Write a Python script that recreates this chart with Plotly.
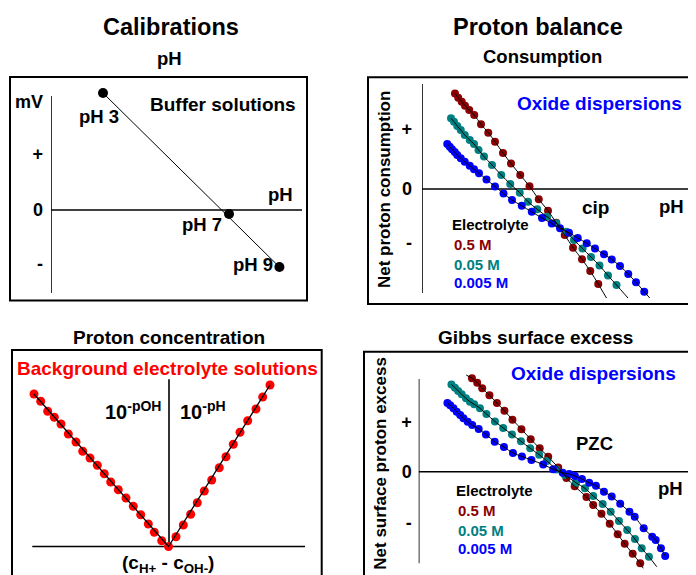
import plotly.graph_objects as go

# The page body adds an 8 px margin, so the figure is drawn 8 px in from the corner.
OFF = 8
W, H = 696 - OFF, 575 - OFF
FONT = "Liberation Sans, Arial, Helvetica, sans-serif"

# ---------------- data ----------------
# Panel 1: pH electrode calibration with buffer solutions (schematic)
buffer_labels = ["pH 3", "pH 7", "pH 9"]
buffer_ph = [3.0, 7.0, 8.6]
buffer_mv = [234, -8, -114]
cal_tickvals = [216, 113, 0, -107]
cal_ticktext = ["mV", "+", "0", "-"]

# Panel 2: net proton consumption vs pH (oxide dispersions)
cons_red_ph = [2.82, 2.95, 3.09, 3.22, 3.39, 3.59, 3.86, 4.15, 4.42, 4.74, 5.06, 5.43,
               5.80, 6.17, 6.54, 6.87, 7.21, 7.54, 7.90, 8.23, 8.55]
cons_red_y = [9.55, 9.13, 8.73, 8.33, 7.9, 7.4, 6.47, 5.63, 4.73, 3.6, 2.55, 1.4,
              0.27, -1.03, -2.17, -3.37, -4.6, -5.87, -7.03, -8.2, -9.5]
cons_teal_ph = [2.66, 2.78, 2.91, 3.05, 3.21, 3.41, 3.58, 3.76, 3.98, 4.30, 4.67, 5.03,
                5.41, 5.74, 6.11, 6.50, 6.87, 7.27, 7.58, 7.92, 8.26, 8.60, 8.94, 9.28]
cons_teal_y = [7.07, 6.73, 6.3, 5.9, 5.4, 4.9, 4.5, 3.9, 3.25, 2.4, 1.4, 0.5,
               -0.37, -1.27, -2.03, -2.77, -3.43, -4.27, -5.1, -5.95, -6.8, -7.65, -8.65, -9.6]
cons_blue_ph = [2.51, 2.61, 2.70, 2.81, 2.91, 3.05, 3.21, 3.41, 3.58, 3.78, 4.08, 4.42,
                4.76, 5.10, 5.49, 5.89, 6.30, 6.69, 7.02, 7.38, 7.73, 8.09, 8.42, 8.78,
                9.09, 9.42, 9.75, 10.06, 10.39]
cons_blue_y = [4.5, 4.23, 3.97, 3.7, 3.4, 3.07, 2.73, 2.33, 1.97, 1.57, 0.95, 0.25,
               -0.45, -1.1, -1.68, -2.28, -2.9, -3.45, -3.93, -4.37, -4.89, -5.43, -5.95, -6.53,
               -7.05, -7.7, -8.5, -9.33, -10.27]
cons_tail_ph = [8.88, 9.74, 10.61]      # where the black model lines end
cons_tail_y = [-10.9, -10.9, -10.9]
cons_tickvals = [6.0, 0, -5.4]
cons_ticktext = ["+", "0", "-"]

# Panel 3: proton concentration in background electrolyte (V shape)
conc_x = [-13.45, -12.78, -12.08, -11.42, -10.75, -10.02, -9.25, -8.58, -7.85, -7.12,
          -6.42, -5.78, -5.02, -4.25, -3.52, -2.78, -2.02, -1.42, -0.68, 0.0,
          0.75, 1.48, 2.22, 2.88, 3.58, 4.32, 5.08, 5.75, 6.48, 7.15, 7.92, 8.75, 9.42, 10.15]
conc_y = [15.25, 14.52, 13.52, 12.92, 12.25, 11.25, 10.45, 9.52, 8.85, 8.12,
          7.28, 6.45, 5.68, 4.85, 4.02, 3.18, 2.25, 1.42, 0.58, 0.0,
          0.98, 2.15, 3.22, 4.38, 5.55, 6.65, 7.88, 8.98, 10.22, 11.42, 12.58, 13.75, 14.95, 16.15]
conc_line_x = [-13.45, 0.0, 10.15]
conc_line_y = [15.25, 0.0, 16.15]

# Panel 4: Gibbs surface excess vs pH
gibbs_red_ph = [3.63, 3.84, 4.04, 4.33, 4.63, 4.93, 5.25, 5.61, 5.98, 6.34, 6.68, 7.08,
                7.41, 7.74, 8.21, 8.48, 8.81, 9.14, 9.46, 9.74, 10.06, 10.36]
gibbs_red_y = [9.34, 8.9, 8.34, 7.64, 6.87, 6.09, 5.2, 4.25, 3.25, 2.34, 1.49, 0.42,
               -0.63, -1.46, -2.53, -3.33, -4.2, -5.2, -6.25, -7.21, -8.2, -9.16]
gibbs_teal_ph = [2.81, 2.95, 3.08, 3.22, 3.39, 3.55, 3.72, 3.95, 4.21, 4.55, 4.88, 5.23,
                 5.59, 5.96, 6.32, 6.63, 7.01, 7.35, 7.79, 8.15, 8.48, 8.86, 9.18, 9.51,
                 9.84, 10.15, 10.42, 10.71]
gibbs_teal_y = [8.72, 8.4, 8.07, 7.74, 7.34, 7.0, 6.74, 6.34, 5.77, 5.02, 4.37, 3.72,
                3.04, 2.34, 1.7, 1.07, 0.22, -0.33, -1.1, -1.66, -2.43, -3.23, -4.0, -4.93,
                -5.83, -6.73, -7.66, -8.5]
gibbs_blue_ph = [2.65, 2.76, 2.89, 3.02, 3.16, 3.29, 3.46, 3.64, 3.90, 4.19, 4.54, 4.91,
                 5.27, 5.63, 6.01, 6.48, 6.88, 7.26, 7.52, 7.75, 8.03, 8.32, 8.59, 8.91,
                 9.22, 9.56, 9.93, 10.14, 10.50, 10.84, 10.98, 11.19, 11.36]
gibbs_blue_y = [6.87, 6.64, 6.34, 6.0, 5.67, 5.34, 5.0, 4.67, 4.27, 3.72, 3.0, 2.47,
                1.87, 1.52, 1.17, 0.72, 0.24, -0.1, -0.23, -0.43, -0.73, -1.1, -1.4, -2.0,
                -2.48, -3.21, -4.0, -4.5, -5.66, -6.5, -6.83, -7.66, -8.43]
gibbs_red_head = (3.40, 9.67)
gibbs_red_tail = (10.48, -9.66)
gibbs_teal_tail = (11.02, -9.5)
gibbs_tickvals = [5.0, 0, -5.1]
gibbs_ticktext = ["+", "0", "-"]

electrolytes = ["0.5 M", "0.05 M", "0.005 M"]
DARKRED, TEAL, BLUE, RED = "#8B0000", "#008080", "#0000FF", "#FF0000"
series_colors = [DARKRED, TEAL, BLUE]

# ---------------- helpers (screen pixels -> paper) ----------------
def fx(p):
    return (p - OFF) / W

def fy(p):
    return 1 - (p - OFF) / H

fig = go.Figure()

def add_dots(x, y, color, size, n):
    fig.add_trace(go.Scatter(x=x, y=y, mode="markers", xaxis=f"x{n}", yaxis=f"y{n}",
                             marker=dict(color=color, size=size, line=dict(width=0)),
                             cliponaxis=False, hoverinfo="skip", showlegend=False))

def add_line(x, y, n, width=1, shape="linear"):
    fig.add_trace(go.Scatter(x=x, y=y, mode="lines", xaxis=f"x{n}", yaxis=f"y{n}",
                             line=dict(color="black", width=width, shape=shape, smoothing=0.6),
                             hoverinfo="skip", showlegend=False))

# Panel 1
add_line([buffer_ph[0], buffer_ph[-1]], [buffer_mv[0], buffer_mv[-1]], 1)
add_dots(buffer_ph, buffer_mv, "black", 10, 1)

# Panel 2
cons_sets = [(cons_red_ph, cons_red_y), (cons_teal_ph, cons_teal_y), (cons_blue_ph, cons_blue_y)]
for (xs, ys), c in zip(cons_sets, series_colors):
    add_dots(xs, ys, c, 8, 2)
for i, (xs, ys) in enumerate(cons_sets):
    add_line(list(xs) + [cons_tail_ph[i]], list(ys) + [cons_tail_y[i]], 2, shape="spline")

# Panel 3
add_dots(conc_x, conc_y, RED, 9, 3)
add_line(conc_line_x, conc_line_y, 3, width=1.3)

# Panel 4
gibbs_sets = [(gibbs_red_ph, gibbs_red_y), (gibbs_teal_ph, gibbs_teal_y), (gibbs_blue_ph, gibbs_blue_y)]
for (xs, ys), c in zip(gibbs_sets, series_colors):
    add_dots(xs, ys, c, 8, 4)
add_line([gibbs_red_head[0]] + gibbs_red_ph + [gibbs_red_tail[0]],
         [gibbs_red_head[1]] + gibbs_red_y + [gibbs_red_tail[1]], 4, shape="spline")
add_line(gibbs_teal_ph + [gibbs_teal_tail[0]], gibbs_teal_y + [gibbs_teal_tail[1]], 4, shape="spline")
add_line(gibbs_blue_ph, gibbs_blue_y, 4, shape="spline")

# ---------------- axes ----------------
def xdom(a, b):
    return [max(0, fx(a)), min(1, fx(b))]

def ydom(top, bottom):
    return [max(0, fy(bottom)), min(1, fy(top))]

tickfont = dict(family=FONT, size=18, color="black", weight="bold")

def yaxis_cfg(dom, rng, anchor, tv=None, tt=None, standoff=6):
    d = dict(domain=dom, range=rng, showgrid=False, zeroline=False, showline=False,
             fixedrange=True, anchor=anchor)
    if tv is None:
        d.update(visible=False)
    else:
        d.update(tickvals=tv, ticktext=tt, ticks="", tickfont=tickfont,
                 ticklabelstandoff=standoff)
    return d

def xaxis_cfg(dom, rng, anchor):
    return dict(domain=dom, range=rng, visible=False, fixedrange=True, anchor=anchor)

fig.update_layout(
    width=W, height=H, margin=dict(l=0, r=0, t=0, b=0),
    paper_bgcolor="white", plot_bgcolor="rgba(0,0,0,0)",
    font=dict(family=FONT, color="black"),
    showlegend=False,
    xaxis=xaxis_cfg(xdom(51, 307), [1.349, 9.476], "y"),
    yaxis=yaxis_cfg(ydom(77, 300.5), [-181, 266], "x", cal_tickvals, cal_ticktext, 7),
    xaxis2=xaxis_cfg(xdom(422, 696), [1.5, 12.46], "y2"),
    yaxis2=yaxis_cfg(ydom(77, 304), [-11.5, 11.2], "x2", cons_tickvals, cons_ticktext, 9),
    xaxis3=xaxis_cfg(xdom(12, 322), [-15.65, 15.35], "y3"),
    yaxis3=yaxis_cfg(ydom(350, 575), [-2.85, 19.65], "x3"),
    xaxis4=xaxis_cfg(xdom(418.7, 696), [1.5, 12.592], "y4"),
    yaxis4=yaxis_cfg(ydom(352, 575), [-10.33, 11.97], "x4", gibbs_tickvals, gibbs_ticktext, 6),
)

# ---------------- shapes: frames and axis lines ----------------
shapes = []
def frame(x0, y0, x1, y1):
    shapes.append(dict(type="rect", xref="paper", yref="paper", x0=fx(x0), x1=fx(x1),
                       y0=fy(y1), y1=fy(y0), line=dict(color="black", width=2),
                       fillcolor="rgba(0,0,0,0)", layer="below"))

frame(10, 77, 307, 300.5)
frame(368, 77.3, 705, 304)
frame(12, 350, 321.7, 590)
frame(364, 351.7, 705, 590)

def aline(n, x0, y0, x1, y1, w=1.6):
    xr = "x" if n == 1 else f"x{n}"
    yr = "y" if n == 1 else f"y{n}"
    shapes.append(dict(type="line", xref=xr, yref=yr, x0=x0, y0=y0, x1=x1, y1=y1,
                       line=dict(color="black", width=w), layer="below"))

aline(1, 1.349, -166, 1.349, 228)
aline(1, 1.349, 0, 9.317, 0)
aline(2, 1.5, -10.4, 1.5, 10.5)
aline(2, 1.5, 0, 12.6, 0)
aline(3, 0.05, 0, 0.05, 16.72)
aline(3, -13.62, 0, 13.65, 0)
aline(4, 1.5, -9.16, 1.5, 9.27)
aline(4, 1.5, 0, 12.6, 0)
fig.update_layout(shapes=shapes)

# ---------------- text ----------------
anns = []
def ann(text, x, y, size, color="black", xanchor="center", angle=0):
    anns.append(dict(text=text, x=fx(x), y=fy(y), xref="paper", yref="paper",
                     xanchor=xanchor, yanchor="middle", showarrow=False, textangle=angle,
                     font=dict(family=FONT, size=size, color=color, weight="bold")))

ann("Calibrations", 170.5, 27, 23.5)
ann("pH", 169, 58, 18.5)
ann("Proton balance", 538, 27, 23.5)
ann("Consumption", 542, 57, 18.5)
ann("Proton concentration", 168.8, 337, 19)
ann("Gibbs surface excess", 535.2, 337, 19)

ann("Buffer solutions", 222.5, 105, 19)
label_pos = [(99.3, 116.5), (202.2, 224.5), (252.8, 264)]
for t, (x, y) in zip(buffer_labels, label_pos):
    ann(t, x, y, 18.5)
ann("pH", 280.5, 194, 18.5)

ann("Oxide dispersions", 599.7, 103, 19, BLUE)
ann("cip", 595.5, 207, 19)
ann("pH", 671.8, 206, 18.5)
ann("Electrolyte", 449.7, 224, 15, xanchor="left")
for t, c, y in zip(electrolytes, series_colors, [244, 264, 282]):
    ann(t, 452.3, y, 15, c, xanchor="left")
ann("Net proton consumption", 384, 190, 17, angle=-90)

ann("Background electrolyte solutions", 167.8, 368.5, 19, RED)
ann("10<sup>-pOH</sup>", 163, 410, 20, xanchor="right")
ann("10<sup>-pH</sup>", 178, 410, 20, xanchor="left")
ann("(c<sub>H+</sub> - c<sub>OH-</sub>)", 167.5, 564, 19)

ann("Oxide dispersions", 593.8, 373.5, 19, BLUE)
ann("PZC", 594.7, 443, 18.5)
ann("pH", 670.5, 488.5, 18.5)
ann("Electrolyte", 454, 490.5, 15, xanchor="left")
for t, c, y in zip(electrolytes, series_colors, [510, 530, 548.5]):
    ann(t, 456.3, y, 15, c, xanchor="left")
ann("Net surface proton excess", 379.7, 463, 17, angle=-90)

fig.update_layout(annotations=anns)

fig.write_html("out.html")
